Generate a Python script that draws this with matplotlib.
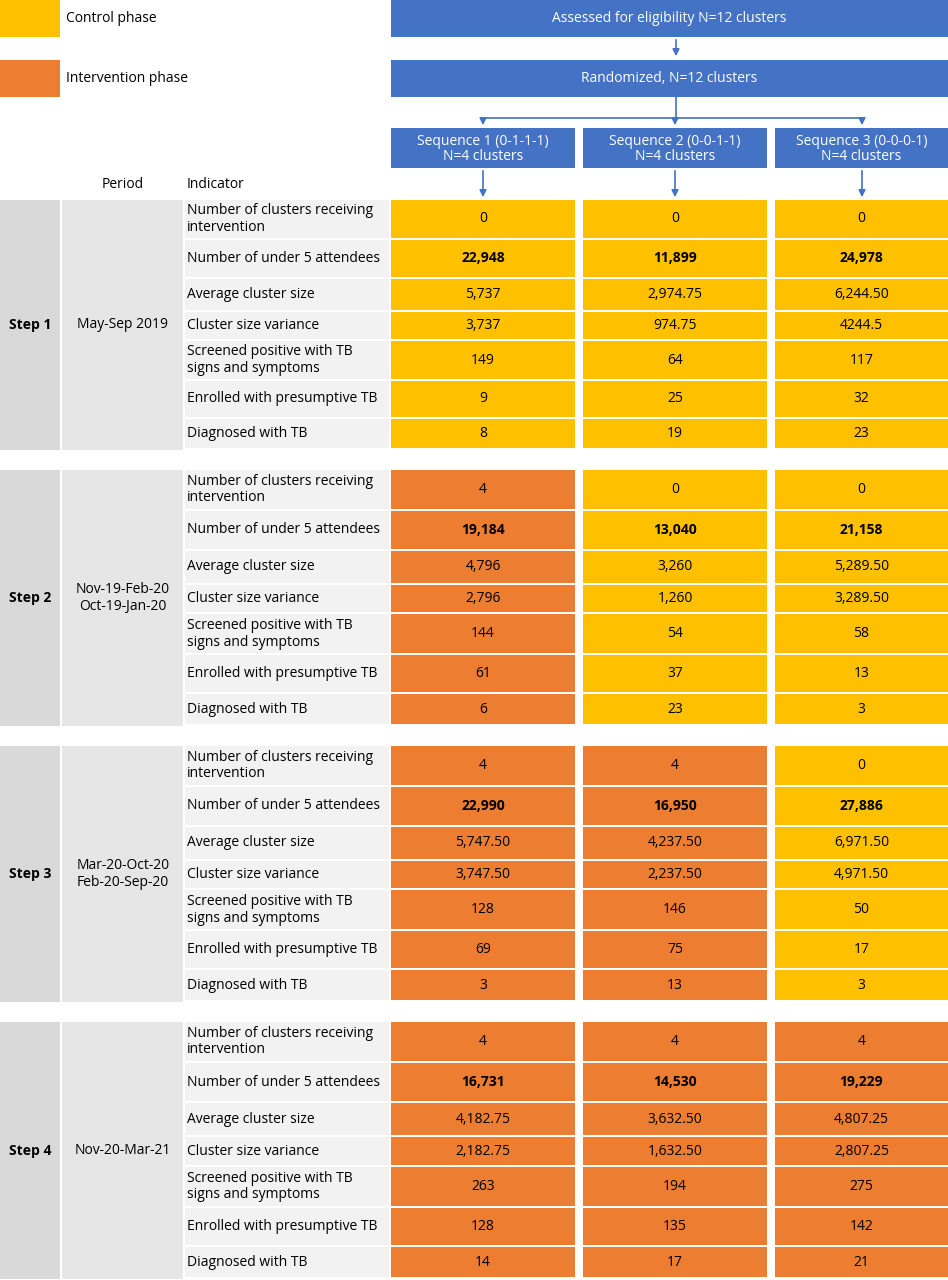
import matplotlib.pyplot as plt
from matplotlib.patches import Rectangle

plt.rcParams['font.family'] = ['Open Sans', 'DejaVu Sans']

YELLOW = "#FFC000"
ORANGE = "#ED7D31"
BLUE = "#4472C4"

indicators = ["Number of clusters receiving\nintervention", "Number of under 5 attendees",
              "Average cluster size", "Cluster size variance",
              "Screened positive with TB\nsigns and symptoms", "Enrolled with presumptive TB",
              "Diagnosed with TB"]
steps = ["Step 1", "Step 2", "Step 3", "Step 4"]
periods = ["May-Sep 2019", "Nov-19-Feb-20\nOct-19-Jan-20",
           "Mar-20-Oct-20\nFeb-20-Sep-20", "Nov-20-Mar-21"]
sequences = ["Sequence 1 (0-1-1-1)\nN=4 clusters", "Sequence 2 (0-0-1-1)\nN=4 clusters",
             "Sequence 3 (0-0-0-1)\nN=4 clusters"]
# 1 = intervention phase, 0 = control phase
phase = [[0, 0, 0], [1, 0, 0], [1, 1, 0], [1, 1, 1]]
values = [
    [["0", "0", "0"], ["22,948", "11,899", "24,978"], ["5,737", "2,974.75", "6,244.50"],
     ["3,737", "974.75", "4244.5"], ["149", "64", "117"], ["9", "25", "32"], ["8", "19", "23"]],
    [["4", "0", "0"], ["19,184", "13,040", "21,158"], ["4,796", "3,260", "5,289.50"],
     ["2,796", "1,260", "3,289.50"], ["144", "54", "58"], ["61", "37", "13"], ["6", "23", "3"]],
    [["4", "4", "0"], ["22,990", "16,950", "27,886"], ["5,747.50", "4,237.50", "6,971.50"],
     ["3,747.50", "2,237.50", "4,971.50"], ["128", "146", "50"], ["69", "75", "17"], ["3", "13", "3"]],
    [["4", "4", "4"], ["16,731", "14,530", "19,229"], ["4,182.75", "3,632.50", "4,807.25"],
     ["2,182.75", "1,632.50", "2,807.25"], ["263", "194", "275"], ["128", "135", "142"], ["14", "17", "21"]],
]

W, H = 948, 1280
fig = plt.figure(figsize=(W / 100, H / 100), dpi=100)
ax = fig.add_axes([0, 0, 1, 1])
ax.set_xlim(0, W)
ax.set_ylim(H, 0)
ax.axis("off")

FS = 10
LS = 1.15


def box(x0, y0, x1, y1, color):
    ax.add_patch(Rectangle((x0, y0), x1 - x0, y1 - y0, facecolor=color, edgecolor="none"))


def arrow(x, y0, y1):
    ax.annotate("", xy=(x, y1), xytext=(x, y0),
                arrowprops=dict(arrowstyle="-|>", color=BLUE, lw=1.2, mutation_scale=10))


# legend
box(0, 0, 60, 37, YELLOW)
ax.text(66, 19, "Control phase", va="center", fontsize=FS)
box(0, 60, 60, 97, ORANGE)
ax.text(66, 79, "Intervention phase", va="center", fontsize=FS)

# flow boxes
box(391, 0, 948, 37, BLUE)
ax.text(669, 19, "Assessed for eligibility N=12 clusters", color="white", ha="center", va="center", fontsize=FS)
box(391, 60, 948, 97, BLUE)
ax.text(669, 79, "Randomized, N=12 clusters", color="white", ha="center", va="center", fontsize=FS)
arrow(676, 37, 59)
ax.plot([676, 676], [97, 118], color=BLUE, lw=1.2)
ax.plot([485, 862], [118, 118], color=BLUE, lw=1.2)

cols = [(391, 575), (583, 767), (775, 948)]
centers = [483, 675, 862]
for (x0, x1), cx, s in zip(cols, centers, sequences):
    arrow(cx, 118, 128)
    box(x0, 128, x1, 168, BLUE)
    ax.text((x0 + x1) / 2, 149, s, color="white", ha="center", va="center", fontsize=FS, linespacing=1.05)
    arrow(cx, 168, 200)

ax.text(123, 185, "Period", ha="center", va="center", fontsize=FS)
ax.text(187, 185, "Indicator", ha="left", va="center", fontsize=FS)

step_y = [(200, 450), (470, 726), (746, 1002), (1022, 1279)]
rel = [40, 39, 33, 29, 40, 38, 31]
for si, (y0, y1) in enumerate(step_y):
    box(0, y0, 60, y1, "#D9D9D9")
    box(62, y0, 183, y1, "#E7E6E6")
    ax.text(30, (y0 + y1) / 2, steps[si], ha="center", va="center", fontsize=FS, weight="bold")
    ax.text(123, (y0 + y1) / 2, periods[si], ha="center", va="center", fontsize=FS, linespacing=LS)
    scale = (y1 - y0) / sum(rel)
    yy = y0
    for ri, h in enumerate(rel):
        r0, r1 = yy, yy + h * scale
        yy = r1
        box(185, r0, 389, r1 - 2, "#F2F2F2")
        ax.text(187, (r0 + r1 - 2) / 2, indicators[ri], ha="left", va="center", fontsize=FS, linespacing=LS)
        for ci, (x0, x1) in enumerate(cols):
            box(x0, r0, x1, r1 - 2, ORANGE if phase[si][ci] else YELLOW)
            ax.text((x0 + x1) / 2, (r0 + r1 - 2) / 2, values[si][ri][ci], ha="center", va="center",
                    fontsize=FS, weight="bold" if ri == 1 else "normal")

fig.savefig("out.png", dpi=100)
